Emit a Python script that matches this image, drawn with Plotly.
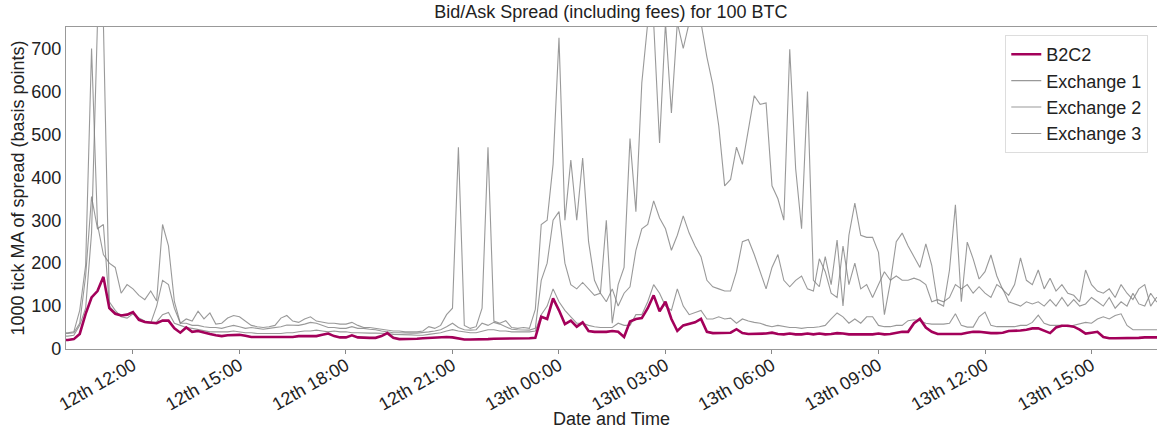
import pandas as pd
import plotly.graph_objects as go

# 10-minute sampling grid, 12th 10:00 -> 13th 17:00
times = pd.date_range("2019-03-12 10:00", "2019-03-13 17:00", freq="10min")

b2c2 = [
    21, 21, 23, 35, 82, 120,      # 12th 10h
    135, 168, 95, 82, 78, 80,     # 11h
    86, 68, 63, 62, 60, 66,       # 12h
    66, 48, 38, 50, 40, 42,       # 13h
    38, 35, 32, 30, 32, 32,       # 14h
    33, 31, 28, 28, 28, 28,       # 15h
    27, 27, 28, 28, 30, 30,       # 16h
    31, 30, 33, 36, 30, 27,       # 17h
    27, 32, 27, 26, 26, 26,       # 18h
    30, 37, 26, 23, 23, 23,       # 19h
    24, 25, 26, 27, 27, 28,       # 20h
    27, 24, 22, 22, 22, 23,       # 21h
    23, 24, 24, 25, 25, 25,       # 22h
    25, 25, 26, 75, 70, 118,      # 23h
    90, 58, 66, 52, 62, 42,       # 13th 00h
    40, 40, 40, 42, 40, 28,       # 01h
    64, 70, 72, 95, 125, 88,      # 02h
    110, 70, 42, 55, 58, 62,      # 03h
    70, 40, 37, 37, 37, 38,       # 04h
    46, 37, 35, 35, 35, 36,       # 05h
    38, 35, 34, 36, 34, 34,       # 06h
    36, 34, 36, 34, 35, 37,       # 07h
    36, 34, 34, 34, 35, 34,       # 08h
    36, 34, 35, 38, 40, 40,       # 09h
    60, 70, 50, 40, 35, 35,       # 10h
    35, 34, 35, 38, 40, 40,       # 11h
    38, 37, 37, 38, 42, 42,       # 12h
    43, 45, 48, 48, 42, 37,       # 13h
    50, 54, 54, 52, 45, 36,       # 14h
    38, 40, 28, 25, 25, 25,       # 15h
    26, 26, 26, 27, 27, 27,       # 16h
    27,
]

exchange1 = [
    38, 38, 40, 90, 195, 700,
    290, 220, 200, 190, 130, 150,
    140, 125, 115, 135, 112, 290,
    240, 110, 60, 70, 65, 88,
    70, 84, 58, 60, 72, 78,
    75, 65, 55, 52, 50, 52,
    55, 72, 78, 65, 62, 70,
    75, 65, 62, 60, 60, 58,
    58, 62, 55, 50, 50, 48,
    45, 43, 42, 42, 40, 40,
    40, 42, 52, 48, 55, 80,
    95, 470, 55, 48, 52, 95,
    470, 65, 60, 66, 50, 48,
    50, 48, 92, 290, 300, 430,
    725, 300, 440, 300, 445, 250,
    160, 130, 300, 60, 150, 190,
    490, 320, 620, 760, 760, 480,
    760, 550, 760, 700, 760, 760,
    760, 680, 615, 520, 380, 395,
    470, 430, 511, 590, 570, 573,
    380, 350, 300, 698, 420, 280,
    600, 160, 145, 215, 150, 254,
    100, 265, 340, 265, 260, 260,
    225, 80, 155, 250, 270, 240,
    215, 190, 245, 195, 107, 100,
    184, 336, 110, 249, 210, 163,
    180, 219, 170, 138, 125, 150,
    212, 160, 150, 184, 140, 165,
    135, 150, 130, 125, 110, 184,
    150, 135, 130, 140, 120, 150,
    130, 115, 140, 150, 100, 120,
    120,
]

exchange2 = [
    30, 30, 32, 55, 95, 270,
    760, 760, 110, 90, 75, 72,
    82, 70, 62, 60, 100, 160,
    150, 95, 60, 60, 55, 55,
    52, 50, 50, 48, 52, 55,
    52, 48, 50, 48, 46, 48,
    50, 52, 56, 55, 55, 58,
    62, 60, 55, 50, 50, 48,
    48, 52, 48, 48, 46, 45,
    42, 40, 38, 38, 37, 37,
    37, 38, 40, 42, 45, 52,
    60, 50, 45, 44, 45, 60,
    55, 62, 58, 52, 46, 45,
    45, 44, 48, 160, 200, 300,
    320, 200, 150, 140, 155, 140,
    125, 130, 110, 140, 100, 130,
    145, 230, 280, 290, 345, 305,
    280, 230, 265, 310, 270, 240,
    215, 160, 145, 140, 135, 135,
    180, 250, 255, 220, 180, 140,
    190, 220, 160, 145, 160, 170,
    140, 135, 210, 180, 130, 120,
    240, 150, 200, 140, 150, 120,
    150, 180, 160, 170, 160, 160,
    165, 160, 150, 110, 115, 110,
    120, 150, 140, 150, 130, 145,
    130, 120, 150, 140, 110, 105,
    100, 110, 105, 110, 100, 115,
    100, 120, 100, 115, 100, 105,
    120, 110, 100, 120, 95, 110,
    100, 130, 105, 100, 130, 110,
    110,
]

exchange3 = [
    36, 36, 38, 60, 170, 355,
    280, 290, 100, 85, 80, 78,
    85, 72, 65, 62, 63, 80,
    85, 60, 55, 50, 48, 45,
    42, 40, 40, 40, 40, 42,
    40, 38, 38, 36, 36, 36,
    36, 36, 38, 38, 40, 42,
    42, 44, 42, 40, 42, 40,
    40, 38, 38, 37, 37, 37,
    37, 36, 34, 34, 33, 33,
    32, 32, 34, 36, 38, 42,
    45, 42, 40, 38, 38, 42,
    45, 45, 42, 42, 40, 40,
    40, 40, 42, 80, 100, 140,
    110, 90, 75, 60, 60, 55,
    52, 50, 50, 50, 60, 55,
    55, 80, 80, 110, 150, 130,
    100, 90, 140, 100, 80, 85,
    90, 70, 70, 75, 70, 72,
    60, 70, 65, 62, 60, 55,
    52, 55, 52, 50, 50, 48,
    50, 50, 52, 55, 70, 84,
    75, 60, 70, 60, 75, 75,
    55, 52, 52, 55, 55, 66,
    68, 66, 60, 58, 58, 58,
    60, 82, 55, 51, 51, 75,
    86, 55, 52, 52, 52, 52,
    55, 55, 62, 79, 60, 55,
    55, 55, 52, 55, 58, 62,
    60, 70, 75, 70, 78, 82,
    55, 45, 45, 45, 45, 45,
    45,
]

tick_times = ["2019-03-12 12:00", "2019-03-12 15:00", "2019-03-12 18:00",
              "2019-03-12 21:00", "2019-03-13 00:00", "2019-03-13 03:00",
              "2019-03-13 06:00", "2019-03-13 09:00", "2019-03-13 12:00",
              "2019-03-13 15:00"]
tick_labels = ["12th 12:00", "12th 15:00", "12th 18:00", "12th 21:00",
               "13th 00:00", "13th 03:00", "13th 06:00", "13th 09:00",
               "13th 12:00", "13th 15:00"]

FONT = "Liberation Sans, Arial, sans-serif"
GREY = "rgba(128,128,128,0.8)"
TXT = "#222222"

fig = go.Figure()
for name, vals, rank in [("Exchange 1", exchange1, 2),
                         ("Exchange 2", exchange2, 3),
                         ("Exchange 3", exchange3, 4)]:
    fig.add_trace(go.Scatter(x=times, y=vals, mode="lines", name=name,
                             legendrank=rank,
                             line=dict(color=GREY, width=1.1)))
fig.add_trace(go.Scatter(x=times, y=b2c2, mode="lines", name="B2C2",
                         legendrank=1,
                         line=dict(color="#a3005a", width=2.6)))

fig.update_layout(
    width=1157, height=429,
    margin=dict(l=66, r=0, t=27, b=80),
    paper_bgcolor="white", plot_bgcolor="white",
    font=dict(family=FONT, size=18, color=TXT),
    title=dict(text="Bid/Ask Spread (including fees) for 100 BTC",
               x=0.528, xanchor="center", y=0.988, yanchor="top",
               font=dict(family=FONT, size=18, color=TXT)),
    showlegend=True,
    legend=dict(x=0.992, y=0.975, xanchor="right", yanchor="top",
                bgcolor="rgba(255,255,255,0.9)", bordercolor="#dddddd",
                borderwidth=1, font=dict(family=FONT, size=18, color=TXT)),
)
fig.update_xaxes(
    range=["2019-03-12 10:06:48", "2019-03-13 16:50:42"],
    tickmode="array", tickvals=tick_times, ticktext=tick_labels,
    tickangle=-30, ticks="outside", ticklen=4, tickcolor="#888888",
    ticklabelstandoff=-6,
    tickfont=dict(family=FONT, size=18, color=TXT),
    showline=True, linecolor="#999999", linewidth=1.2, mirror=True,
    showgrid=False, zeroline=False, automargin=False,
    title=dict(text="Date and Time", standoff=12,
               font=dict(family=FONT, size=18, color=TXT)),
)
fig.update_yaxes(
    range=[0, 750], tickvals=[0, 100, 200, 300, 400, 500, 600, 700],
    tickfont=dict(family=FONT, size=18, color=TXT),
    showline=True, linecolor="#999999", linewidth=1.2, mirror=True,
    showgrid=False, zeroline=False, ticks="", automargin=False,
    title=dict(text="1000 tick MA of spread (basis points)", standoff=1,
               font=dict(family=FONT, size=18, color=TXT)),
)

fig.write_html("out.html",
               config={"displayModeBar": False},
               post_script="document.body.style.margin='0px';"
                           "document.body.style.overflow='hidden';")
